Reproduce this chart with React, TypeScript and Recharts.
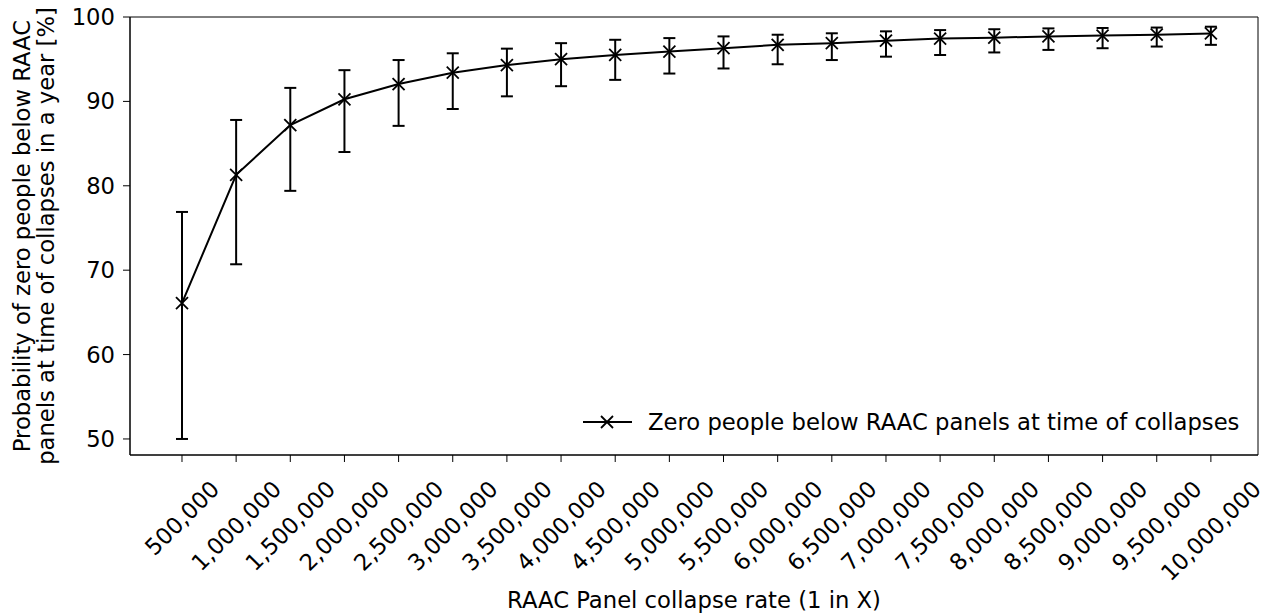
import { ComposedChart, Line, XAxis, YAxis, Legend, ErrorBar, ReferenceArea } from 'recharts';

// collapse rate (1 in X)
const rates = [
  500000, 1000000, 1500000, 2000000, 2500000, 3000000, 3500000, 4000000, 4500000, 5000000,
  5500000, 6000000, 6500000, 7000000, 7500000, 8000000, 8500000, 9000000, 9500000, 10000000,
];
// probability of zero people below panels [%]
const means = [
  66.1, 81.3, 87.2, 90.25, 92.05, 93.4, 94.3, 95.0, 95.5, 95.9,
  96.3, 96.7, 96.9, 97.2, 97.45, 97.55, 97.7, 97.8, 97.9, 98.05,
];
const lows = [
  50.0, 70.7, 79.4, 84.0, 87.1, 89.1, 90.6, 91.8, 92.55, 93.3,
  93.9, 94.4, 94.9, 95.3, 95.5, 95.8, 96.1, 96.3, 96.5, 96.7,
];
const highs = [
  76.9, 87.8, 91.6, 93.7, 94.9, 95.7, 96.25, 96.9, 97.3, 97.5,
  97.7, 97.9, 98.07, 98.3, 98.45, 98.55, 98.65, 98.7, 98.75, 98.85,
];
const yTicks = [50, 60, 70, 80, 90, 100];

const FONT = 'DejaVu Sans, sans-serif';
const FS = 22.7;
const X_DOMAIN = [20000, 10435000];
const Y_DOMAIN = [48.1, 100];

const data = rates.map((r, i) => ({
  rate: r,
  p: means[i],
  err: [means[i] - lows[i], highs[i] - means[i]],
}));

const Cross = ({ cx, cy }: any) => {
  if (cx == null || cy == null) return null;
  const s = 6;
  return (
    <g stroke="#000" strokeWidth={1.8}>
      <line x1={cx - s} y1={cy - s} x2={cx + s} y2={cy + s} />
      <line x1={cx - s} y1={cy + s} x2={cx + s} y2={cy - s} />
    </g>
  );
};

const XTick = ({ x, y, payload }: any) => {
  const label = Number(payload.value).toLocaleString('en-US');
  let em = 0;
  for (const ch of label) em += ch === ',' ? 0.318 : 0.636;
  const len = em * FS;
  const half = (len + 25) / (2 * Math.SQRT2);
  const cy = y + 12 + half;
  return (
    <text
      x={x}
      y={cy}
      textAnchor="middle"
      dominantBaseline="central"
      transform={`rotate(-45 ${x} ${cy})`}
      fill="#000"
      fontSize={FS}
      fontFamily={FONT}
    >
      {label}
    </text>
  );
};

const YLabel = ({ viewBox }: any) => {
  const cy = viewBox.y + viewBox.height / 2;
  return (
    <g fontFamily={FONT} fontSize={FS} fill="#000">
      <text x={22} y={cy} textAnchor="middle" dominantBaseline="central" transform={`rotate(-90 22 ${cy})`}>
        Probability of zero people below RAAC
      </text>
      <text x={46} y={cy} textAnchor="middle" dominantBaseline="central" transform={`rotate(-90 46 ${cy})`}>
        panels at time of collapses in a year [%]
      </text>
    </g>
  );
};

const XLabel = ({ viewBox }: any) => (
  <text
    x={viewBox.x + viewBox.width / 2}
    y={600}
    textAnchor="middle"
    dominantBaseline="central"
    fontFamily={FONT}
    fontSize={FS}
    fill="#000"
  >
    RAAC Panel collapse rate (1 in X)
  </text>
);

const LegendBox = () => (
  <div style={{ display: 'flex', alignItems: 'center', fontFamily: FONT, fontSize: FS, color: '#000', whiteSpace: 'nowrap' }}>
    <svg width={68} height={24}>
      <line x1={3} y1={12} x2={52} y2={12} stroke="#000" strokeWidth={2} />
      <Cross cx={27} cy={12} />
    </svg>
    <span>Zero people below RAAC panels at time of collapses</span>
  </div>
);

export default function App() {
  return (
    <div style={{ position: 'absolute', left: 0, top: 0, width: 1266, height: 614, background: '#fff' }}>
      <ComposedChart width={1266} height={614} data={data} margin={{ top: 17, right: 8, bottom: 0, left: 0 }}>
        <XAxis
          dataKey="rate"
          type="number"
          domain={X_DOMAIN}
          ticks={rates}
          interval={0}
          allowDataOverflow
          height={159}
          tick={<XTick />}
          tickSize={7}
          tickLine={{ stroke: '#000', strokeWidth: 1 }}
          axisLine={{ stroke: '#000', strokeWidth: 1 }}
          label={<XLabel />}
        />
        <YAxis
          type="number"
          domain={Y_DOMAIN}
          ticks={yTicks}
          allowDataOverflow
          width={130}
          tickSize={7}
          tickMargin={8}
          tick={{ fill: '#000', fontSize: FS, fontFamily: FONT }}
          tickLine={{ stroke: '#000', strokeWidth: 1 }}
          axisLine={{ stroke: '#000', strokeWidth: 1 }}
          label={<YLabel />}
        />
        <ReferenceArea
          x1={X_DOMAIN[0]}
          x2={X_DOMAIN[1]}
          y1={Y_DOMAIN[0]}
          y2={Y_DOMAIN[1]}
          fill="none"
          stroke="#000"
          strokeWidth={1}
          ifOverflow="visible"
        />
        <Legend
          layout="vertical"
          align="center"
          verticalAlign="middle"
          content={<LegendBox />}
          wrapperStyle={{ position: 'absolute', left: 580, top: 409, width: 680 }}
        />
        <Line
          dataKey="p"
          type="linear"
          stroke="#000"
          strokeWidth={2}
          dot={<Cross />}
          activeDot={false}
          isAnimationActive={false}
        >
          <ErrorBar dataKey="err" direction="y" width={6} stroke="#000" strokeWidth={2} isAnimationActive={false} />
        </Line>
      </ComposedChart>
    </div>
  );
}
